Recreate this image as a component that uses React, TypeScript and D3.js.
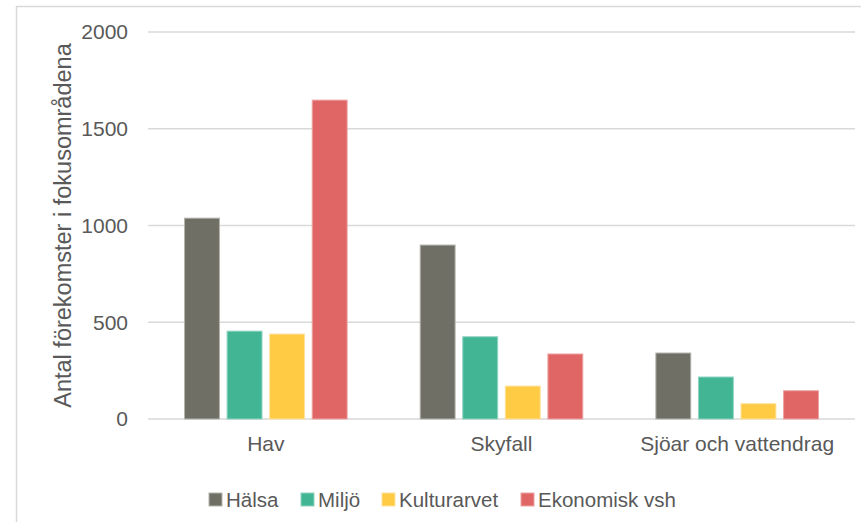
import React, { useEffect, useRef } from 'react';
import * as d3 from 'd3';

const categories = ['Hav', 'Skyfall', 'Sjöar och vattendrag'];
const seriesNames = ['Hälsa', 'Miljö', 'Kulturarvet', 'Ekonomisk vsh'];
const halsa = [1038, 899, 341];
const miljo = [454, 425, 217];
const kulturarvet = [439, 170, 79];
const ekonomisk = [1648, 336, 146];
const yTicks = [0, 500, 1000, 1500, 2000];

const colors = ['#6f6f65', '#42b595', '#ffcb45', '#e06666'];
const strokes = ['#b4b4ac', '#8fd4c0', '#ffe09a', '#eea3a3'];

export default function App() {
  const svgRef = useRef<SVGSVGElement>(null);

  useEffect(() => {
    if (!svgRef.current) return;
    const width = 861;
    const height = 522;
    const margin = { top: 32, right: 6, bottom: 103, left: 148 };
    const font = '"Liberation Sans", Arial, sans-serif';
    const textColor = '#595959';

    const svg = d3.select(svgRef.current);
    svg.selectAll('*').remove();

    const values = [halsa, miljo, kulturarvet, ekonomisk];

    // chart area border (cropped: only top and left visible)
    svg.append('line').attr('x1', 16).attr('x2', width).attr('y1', 6.5).attr('y2', 6.5)
      .attr('stroke', '#d9d9d9').attr('stroke-width', 1.5);
    svg.append('line').attr('x1', 16.5).attr('x2', 16.5).attr('y1', 6).attr('y2', height)
      .attr('stroke', '#d9d9d9').attr('stroke-width', 1.5);

    const x0 = d3.scaleBand<string>()
      .domain(categories)
      .range([margin.left, width - margin.right]);

    const groupW = x0.bandwidth() * 0.69;
    const x1 = d3.scaleBand<string>()
      .domain(seriesNames)
      .range([0, groupW])
      .paddingInner(0.18);

    const y = d3.scaleLinear()
      .domain([0, 2000])
      .range([height - margin.bottom, margin.top]);

    // grid
    svg.append('g')
      .selectAll('line')
      .data(yTicks)
      .enter()
      .append('line')
      .attr('x1', margin.left)
      .attr('x2', width - margin.right)
      .attr('y1', d => y(d))
      .attr('y2', d => y(d))
      .attr('stroke', '#d9d9d9')
      .attr('stroke-width', 1.5);

    // y tick labels
    svg.append('g')
      .selectAll('text')
      .data(yTicks)
      .enter()
      .append('text')
      .attr('x', 128)
      .attr('y', d => y(d))
      .attr('dy', '0.35em')
      .attr('text-anchor', 'end')
      .attr('fill', textColor)
      .attr('font-family', font)
      .attr('font-size', '21px')
      .text(d => String(d));

    // bars
    seriesNames.forEach((s, si) => {
      svg.append('g')
        .selectAll('rect')
        .data(categories.map((c, ci) => ({ c, v: values[si][ci] })))
        .enter()
        .append('rect')
        .attr('x', d => x0(d.c)! + (x0.bandwidth() - groupW) / 2 + x1(s)!)
        .attr('y', d => y(d.v))
        .attr('width', x1.bandwidth())
        .attr('height', d => y(0) - y(d.v))
        .attr('fill', colors[si])
        .attr('stroke', strokes[si])
        .attr('stroke-width', 1);
    });

    // category labels
    svg.append('g')
      .selectAll('text')
      .data(categories)
      .enter()
      .append('text')
      .attr('x', d => x0(d)! + x0.bandwidth() / 2)
      .attr('y', 451)
      .attr('text-anchor', 'middle')
      .attr('fill', textColor)
      .attr('font-family', font)
      .attr('font-size', '21px')
      .text(d => d);

    // y title
    svg.append('text')
      .attr('transform', `translate(71,${(y(0) + y(2000)) / 2}) rotate(-90)`)
      .attr('text-anchor', 'middle')
      .attr('fill', textColor)
      .attr('font-family', font)
      .attr('font-size', '23.5px')
      .text('Antal förekomster i fokusområdena');

    // legend
    const legendX = [209, 301, 382, 521];
    const lg = svg.append('g');
    seriesNames.forEach((s, i) => {
      lg.append('rect')
        .attr('x', legendX[i])
        .attr('y', 493)
        .attr('width', 13)
        .attr('height', 13)
        .attr('fill', colors[i])
        .attr('stroke', strokes[i])
        .attr('stroke-width', 1);
      lg.append('text')
        .attr('x', legendX[i] + 17)
        .attr('y', 507)
        .attr('fill', textColor)
        .attr('font-family', font)
        .attr('font-size', '20.5px')
        .text(s);
    });
  }, []);

  return (
    <svg
      ref={svgRef}
      width={861}
      height={522}
      style={{ display: 'block', position: 'absolute', left: 0, top: 0, background: '#fff' }}
    />
  );
}
